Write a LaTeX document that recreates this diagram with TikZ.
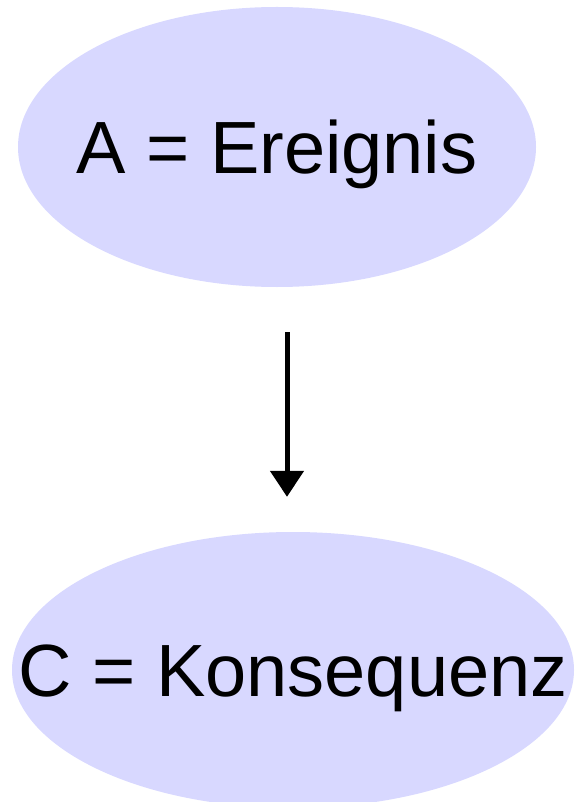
\documentclass[tikz,border=0pt]{standalone}
\usepackage{fontspec}
\setmainfont{Liberation Sans}
\usetikzlibrary{shapes.geometric,arrows.meta}
\definecolor{bubble}{RGB}{216,216,255}
\begin{document}
\begin{tikzpicture}[x=1pt,y=-1pt,
  bubblenode/.style={ellipse, fill=bubble, draw=none, inner sep=0pt},
  bubbletext/.style={inner sep=0pt, font=\fontsize{74}{80}\selectfont, text height=53pt, text depth=0pt},
  flowarrow/.style={line width=5pt, -{Triangle[length=26pt,width=33pt]}}]
  \useasboundingbox (0,0) rectangle (575,802);
  \clip (0,0) rectangle (575,802);
  \fill[white] (0,0) rectangle (575,802);
  \node[bubblenode, minimum width=518pt, minimum height=280pt] (A) at (277,147) {};
  \node[bubbletext] (At) at (A.center) {A = Ereignis};
  \node[bubblenode, minimum width=562pt, minimum height=276pt] (C) at (293,670) {};
  \node[bubbletext] (Ct) at (C.center) {C = Konsequenz};
  \draw[flowarrow, shorten <=45pt, shorten >=35pt] ([xshift=10pt]A.south) -- ([xshift=-6pt]C.north);
\end{tikzpicture}
\end{document}
